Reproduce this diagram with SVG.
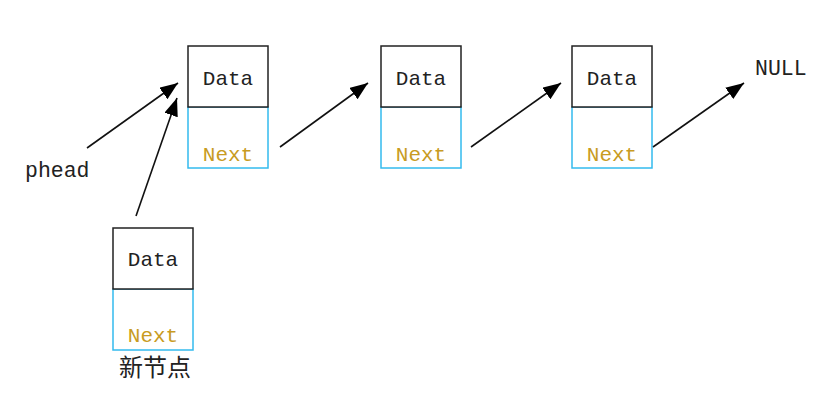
<svg xmlns="http://www.w3.org/2000/svg" width="840" height="405" viewBox="0 0 840 405">
<style>
.data{fill:#fff;stroke:#222;stroke-width:1.5}
.next{fill:#fff;stroke:#33bbee;stroke-width:1.5}
.t{font-family:"Liberation Mono","DejaVu Sans Mono",monospace;font-size:21px;text-anchor:middle;fill:#222}
.tn{fill:#c89b22}
.lbl{font-family:"Liberation Mono","Noto Sans CJK SC",monospace;font-size:21.5px;fill:#222}
.cn{font-family:"Noto Sans CJK SC",sans-serif;font-size:24px;fill:#222}
.c{stroke:#111;stroke-width:1.6;fill:none;marker-end:url(#ah)}
</style>
<defs>
<marker id="ah" markerUnits="userSpaceOnUse" markerWidth="20" markerHeight="16" refX="18" refY="7" orient="auto">
<path d="M0,0 L18,7 L0,14 z" fill="#000"/>
</marker>
</defs>
<rect width="840" height="405" fill="#fff"/>
<g id="node1">
<rect class="next" x="188" y="107" width="80" height="61"/>
<rect class="data" x="188" y="46" width="80" height="61"/>
<text class="t" x="228" y="85">Data</text>
<text class="t tn" x="228" y="161">Next</text>
</g>
<g id="node2">
<rect class="next" x="381" y="107" width="80" height="61"/>
<rect class="data" x="381" y="46" width="80" height="61"/>
<text class="t" x="421" y="85">Data</text>
<text class="t tn" x="421" y="161">Next</text>
</g>
<g id="node3">
<rect class="next" x="572" y="107" width="80" height="61"/>
<rect class="data" x="572" y="46" width="80" height="61"/>
<text class="t" x="612" y="85">Data</text>
<text class="t tn" x="612" y="161">Next</text>
</g>
<g id="newnode">
<rect class="next" x="113" y="289" width="80" height="61"/>
<rect class="data" x="113" y="228" width="80" height="61"/>
<text class="t" x="153" y="266">Data</text>
<text class="t tn" x="153" y="342">Next</text>
<text class="cn" x="119" y="376">新节点</text>
</g>
<g id="phead"><text class="lbl" x="25" y="177">phead</text></g>
<g id="null"><text class="lbl" x="755" y="75">NULL</text></g>
<g id="connectors">
<line class="c" x1="87" y1="148" x2="178" y2="83"/>
<line class="c" x1="136" y1="216" x2="177" y2="98"/>
<line class="c" x1="280" y1="147" x2="368" y2="83"/>
<line class="c" x1="471" y1="147" x2="561" y2="83"/>
<line class="c" x1="653" y1="147" x2="744" y2="83"/>
</g>
</svg>
